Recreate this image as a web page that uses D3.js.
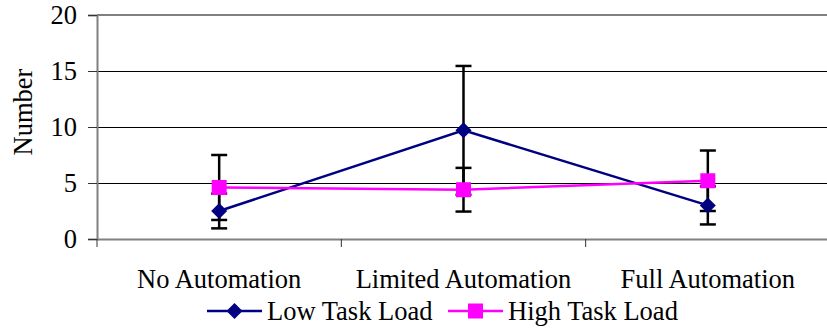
<!DOCTYPE html>
<html><head><meta charset="utf-8">
<script src="https://cdn.jsdelivr.net/npm/d3@7"></script>
<style>body{margin:0;background:#fff}svg{display:block}</style>
</head><body>
<script>
const categories = ["No Automation", "Limited Automation", "Full Automation"];
const seriesNames = ["Low Task Load", "High Task Load"];
const lowValues = [2.5, 9.7, 3.0];
const lowErrors = [1.55, 5.75, 1.7];
const highValues = [4.6, 4.4, 5.2];
const highErrors = [2.9, 1.95, 2.7];
const yTicks = [0, 5, 10, 15, 20];

const FONT = "'Liberation Serif', Tinos, 'Times New Roman', Times, 'DejaVu Serif', serif";
const FS = "26.5px";
const W = 827, H = 330;
const m = {left: 97, top: 15, right: -3, bottom: 91};
const svg = d3.select("body").append("svg").attr("width", W).attr("height", H)
  .style("font-family", FONT);
const x = d3.scaleBand().domain(categories).range([m.left, W - m.right]);
const y = d3.scaleLinear().domain([0, 20]).range([H - m.bottom, m.top]);

svg.append("g").selectAll("line").data(yTicks.filter(t => t > 0 && t < 20)).join("line")
  .attr("x1", m.left).attr("x2", W).attr("y1", d => y(d)).attr("y2", d => y(d))
  .attr("stroke", "#000").attr("stroke-width", 1).attr("shape-rendering", "crispEdges");
svg.append("line").attr("x1", m.left).attr("x2", W).attr("y1", y(20)).attr("y2", y(20))
  .attr("stroke", "#808080").attr("stroke-width", 2);

const ya = svg.append("g").attr("transform", `translate(${m.left},0)`)
  .call(d3.axisLeft(y).tickValues(yTicks).tickSize(9).tickPadding(11));
ya.attr("font-family", null).attr("font-size", null);
ya.select(".domain").attr("stroke", "#808080").attr("stroke-width", 2);
ya.selectAll(".tick line").attr("stroke", "#333");
ya.selectAll("text").style("font-family", FONT).style("font-size", FS).attr("fill", "#000");

const xa = svg.append("g").attr("transform", `translate(0,${y(0)})`)
  .call(d3.axisBottom(x).tickSize(0));
xa.attr("font-family", null).attr("font-size", null);
xa.select(".domain").attr("stroke", "#808080").attr("stroke-width", 2);
xa.selectAll("text").style("font-family", FONT).style("font-size", FS).attr("fill", "#000")
  .attr("y", 49).attr("dy", null);
svg.append("g").selectAll("line").data(categories).join("line")
  .attr("x1", d => x(d)).attr("x2", d => x(d)).attr("y1", y(0)).attr("y2", y(0) + 8)
  .attr("stroke", "#333").attr("stroke-width", 1);

svg.append("text").attr("transform", "translate(32,112) rotate(-90)")
  .attr("text-anchor", "middle").style("font-size", FS).style("font-family", FONT).text("Number");

const cx = d => x(d) + x.bandwidth() / 2;
const series = [
  {name: seriesNames[0], vals: lowValues, errs: lowErrors, color: "#000080", marker: "diamond"},
  {name: seriesNames[1], vals: highValues, errs: highErrors, color: "#FF00FF", marker: "square"}
];
const line = d3.line().x((d, i) => cx(categories[i])).y(d => y(d));
series.forEach(s => {
  svg.append("path").datum(s.vals).attr("d", line).attr("fill", "none")
    .attr("stroke", s.color).attr("stroke-width", 2.5);
});
series.forEach(s => {
  const g = svg.append("g").attr("stroke", "#000").attr("stroke-width", 2.5);
  s.vals.forEach((v, i) => {
    const px = cx(categories[i]);
    const lo = y(v - s.errs[i]), hi = y(v + s.errs[i]);
    g.append("line").attr("x1", px).attr("x2", px).attr("y1", lo).attr("y2", hi);
    g.append("line").attr("x1", px - 8).attr("x2", px + 8).attr("y1", lo).attr("y2", lo);
    g.append("line").attr("x1", px - 8).attr("x2", px + 8).attr("y1", hi).attr("y2", hi);
  });
});
function drawMarker(g, type, px, py, color) {
  if (type === "diamond") {
    g.append("path").attr("d", `M${px},${py-8}L${px+8},${py}L${px},${py+8}L${px-8},${py}Z`).attr("fill", color);
  } else {
    g.append("rect").attr("x", px - 7.5).attr("y", py - 7.5).attr("width", 15).attr("height", 15).attr("fill", color);
  }
}
series.forEach(s => {
  const g = svg.append("g");
  s.vals.forEach((v, i) => drawMarker(g, s.marker, cx(categories[i]), y(v), s.color));
});

const legendItems = [{x0: 207, tx: 267}, {x0: 448, tx: 508}];
series.forEach((s, i) => {
  const L = legendItems[i], ly = 311;
  const g = svg.append("g");
  g.append("line").attr("x1", L.x0).attr("x2", L.x0 + 55).attr("y1", ly).attr("y2", ly)
    .attr("stroke", s.color).attr("stroke-width", 2.5);
  drawMarker(g, s.marker, L.x0 + 27.5, ly, s.color);
  g.append("text").attr("x", L.tx).attr("y", 320)
    .style("font-size", FS).style("font-family", FONT).text(s.name);
});
</script>
</body></html>
